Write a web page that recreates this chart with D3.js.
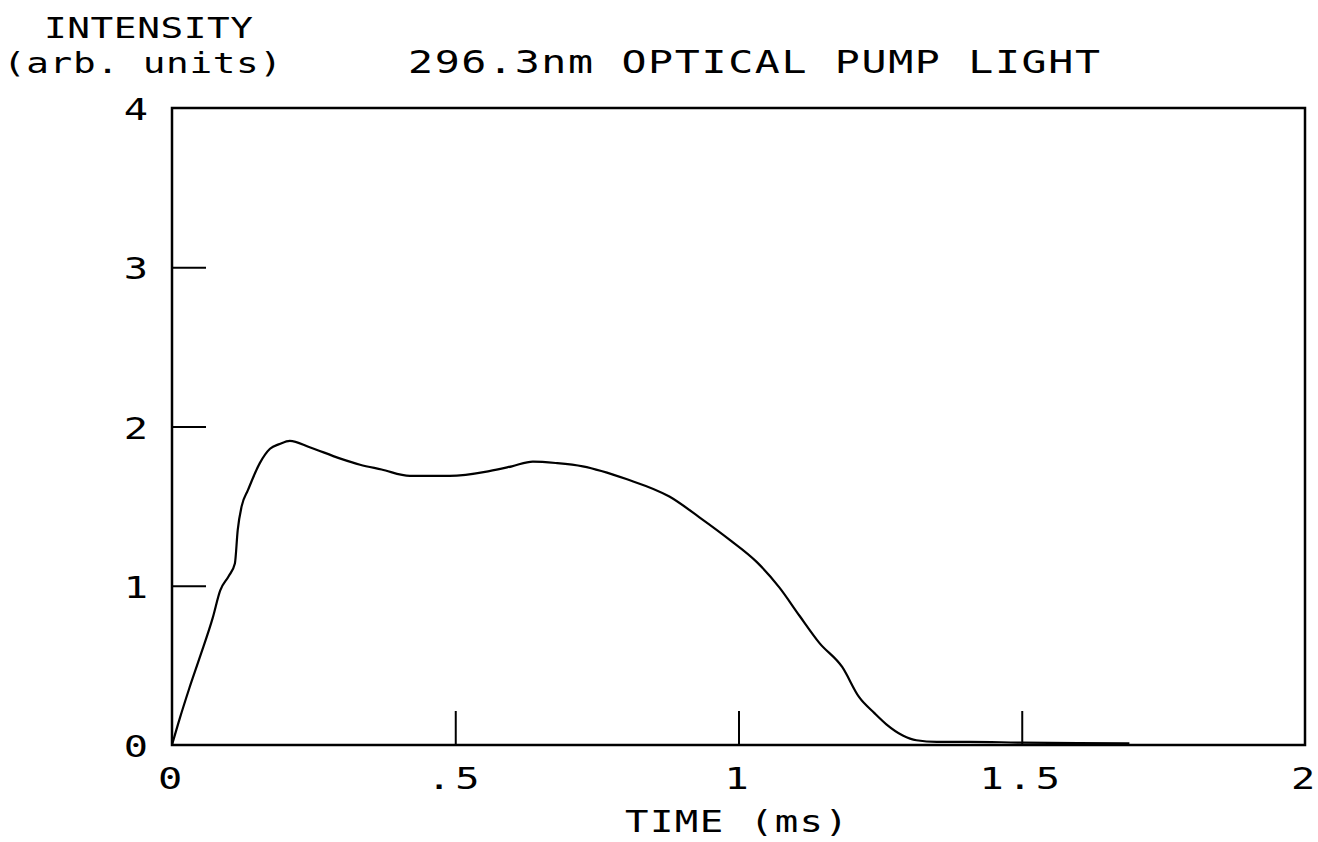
<!DOCTYPE html>
<html>
<head>
<meta charset="utf-8">
<script src="https://cdn.jsdelivr.net/npm/d3@7"></script>
<style>
  html, body { margin: 0; padding: 0; background: #fff; }
  svg text { font-family: "DejaVu Sans Mono", "Liberation Mono", monospace; fill: #000; }
</style>
</head>
<body>
<svg id="chart" width="1318" height="842"></svg>
<script>
// ---- data ----
const title = "296.3nm OPTICAL PUMP LIGHT";
const yTitleLines = ["INTENSITY", "(arb. units)"];
const xTitle = "TIME (ms)";
const xTicks = [0, 0.5, 1, 1.5, 2];
const xTickLabels = ["0", ".5", "1", "1.5", "2"];
const yTicks = [0, 1, 2, 3, 4];
const yTickLabels = ["0", "1", "2", "3", "4"];

const time = [0, 0.014, 0.03, 0.049, 0.072, 0.085, 0.1, 0.111, 0.116, 0.123, 0.134, 0.155, 0.173, 0.19, 0.208, 0.243,
  0.296, 0.332, 0.37, 0.42, 0.49, 0.56, 0.60, 0.637, 0.68, 0.725, 0.802, 0.878, 0.931, 0.984, 1.032,
  1.072, 1.108, 1.143, 1.183, 1.213, 1.24, 1.261, 1.29, 1.314, 1.35, 1.407, 1.5, 1.6, 1.69];
const intensity = [0, 0.17, 0.35, 0.55, 0.80, 0.97, 1.06, 1.14, 1.35, 1.50, 1.60, 1.77, 1.86, 1.89, 1.91, 1.87,
  1.80, 1.76, 1.73, 1.69, 1.69, 1.72, 1.75, 1.78, 1.77, 1.75, 1.67, 1.56, 1.43, 1.29, 1.15,
  0.99, 0.81, 0.64, 0.49, 0.30, 0.20, 0.13, 0.06, 0.03, 0.02, 0.02, 0.015, 0.012, 0.01];

(function () {
  const svg = d3.select("#chart");
  const mLeft = 172, mRight = 1305, mTop = 108, mBottom = 745;
  const x = d3.scaleLinear().domain([0, 2]).range([mLeft, mRight]);
  const y = d3.scaleLinear().domain([0, 4]).range([mBottom, mTop]);
  const SX = 1.3;

  // frame
  svg.append("rect")
    .attr("x", mLeft).attr("y", mTop)
    .attr("width", mRight - mLeft).attr("height", mBottom - mTop)
    .attr("fill", "none").attr("stroke", "#000").attr("stroke-width", 2.5);

  // axes with inward ticks
  const xAxis = d3.axisTop(x).tickValues(xTicks.filter(t => t > 0 && t < 2)).tickSize(34).tickFormat("");
  svg.append("g").attr("transform", `translate(0,${mBottom})`).call(xAxis)
    .call(g => g.select(".domain").remove())
    .call(g => g.selectAll("line").attr("stroke", "#000").attr("stroke-width", 2));

  const yAxis = d3.axisRight(y).tickValues(yTicks.filter(t => t > 0 && t < 4)).tickSize(34).tickFormat("");
  svg.append("g").attr("transform", `translate(${mLeft},0)`).call(yAxis)
    .call(g => g.select(".domain").remove())
    .call(g => g.selectAll("line").attr("stroke", "#000").attr("stroke-width", 2));

  // tick labels (horizontally stretched plotter-like glyphs)
  svg.append("g").selectAll("text").data(xTicks).join("text")
    .attr("transform", d => `translate(${x(d)},789) scale(${SX},1)`)
    .attr("text-anchor", "middle")
    .attr("font-size", 31)
    .attr("letter-spacing", 3)
    .text((d, i) => xTickLabels[i]);

  svg.append("g").selectAll("text").data(yTicks).join("text")
    .attr("transform", d => `translate(148,${y(d) + 12}) scale(${SX},1)`)
    .attr("text-anchor", "end")
    .attr("font-size", 31)
    .text((d, i) => yTickLabels[i]);

  // line
  const line = d3.line().x((d, i) => x(time[i])).y(d => y(d)).curve(d3.curveMonotoneX);
  svg.append("path").datum(intensity)
    .attr("d", line)
    .attr("fill", "none").attr("stroke", "#000").attr("stroke-width", 2.2);

  // titles
  function spaced(txt, x0, yb, len, size) {
    svg.append("text")
      .attr("transform", `translate(${x0},${yb}) scale(${SX},1)`)
      .attr("font-size", size)
      .attr("textLength", len / SX).attr("lengthAdjust", "spacing")
      .text(txt);
  }
  spaced(title, 408, 73, 692, 32);
  spaced(yTitleLines[0], 44, 38, 209, 29);
  spaced(yTitleLines[1], 3, 73, 279, 29);
  spaced(xTitle, 625, 832, 223, 30);
})();
</script>
</body>
</html>
